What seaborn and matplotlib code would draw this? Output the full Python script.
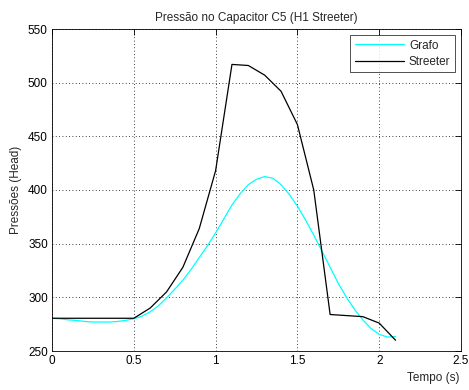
import numpy as np
import pandas as pd
import matplotlib
matplotlib.use("Agg")
import matplotlib.pyplot as plt
import seaborn as sns

# Grafo (cyan, smooth)
grafo_t = [0.00, 0.05, 0.10, 0.15, 0.20, 0.25, 0.30, 0.35, 0.40, 0.45,
           0.50, 0.55, 0.60, 0.65, 0.70, 0.75, 0.80, 0.85, 0.90, 0.95,
           1.00, 1.05, 1.10, 1.15, 1.20, 1.25, 1.30, 1.35, 1.40, 1.45,
           1.50, 1.55, 1.60, 1.65, 1.70, 1.75, 1.80, 1.85, 1.90, 1.95,
           2.00, 2.05, 2.10]
grafo_p = [280.5, 280.0, 279.0, 278.5, 277.5, 277.0, 277.0, 277.0, 277.5, 278.5,
           280.0, 282.5, 286.5, 292.0, 299.5, 307.5, 316.0, 326.0, 337.0, 348.0,
           360.0, 373.0, 386.0, 396.5, 405.0, 410.0, 412.5, 411.0, 405.0, 396.0,
           385.0, 372.0, 358.0, 343.0, 328.0, 313.0, 300.0, 288.5, 279.0, 271.0,
           265.5, 263.0, 263.5]

# Streeter (black polyline)
streeter_t = [0.0, 0.1, 0.2, 0.3, 0.4, 0.5, 0.6, 0.7, 0.8, 0.9, 1.0, 1.1,
              1.2, 1.3, 1.4, 1.5, 1.6, 1.7, 1.8, 1.9, 2.0, 2.1]
streeter_p = [280.5, 280.5, 280.5, 280.5, 280.5, 280.5, 290, 305, 328, 364, 418, 517,
              516, 507, 492, 461, 400, 284, 283, 282, 276, 260]

x_ticks = [0, 0.5, 1, 1.5, 2, 2.5]
x_ticklabels = ["0", "0.5", "1", "1.5", "2", "2.5"]
y_ticks = [250, 300, 350, 400, 450, 500, 550]

sns.set_style("white")
plt.rcParams['font.family'] = ['Liberation Sans', 'DejaVu Sans']
plt.rcParams['font.size'] = 8.5

df = pd.concat([
    pd.DataFrame({"t": grafo_t, "p": grafo_p, "serie": "Grafo"}),
    pd.DataFrame({"t": streeter_t, "p": streeter_p, "serie": "Streeter"}),
])

fig = plt.figure(figsize=(4.69, 3.90), dpi=100)
fig.patch.set_facecolor("white")
ax = fig.add_axes([52/469, 1-351/390, (461-52)/469, (351-29)/390])

sns.lineplot(data=df, x="t", y="p", hue="serie", sort=False,
             palette={"Grafo": "#00ffff", "Streeter": "#000000"},
             linewidth=0.9, ax=ax, estimator=None)

ax.set_xlim(0, 2.5)
ax.set_ylim(250, 550)
ax.set_xticks(x_ticks)
ax.set_xticklabels(x_ticklabels)
ax.set_yticks(y_ticks)
ax.grid(True, color="black", linestyle=(0, (1, 3)), linewidth=0.6)
ax.tick_params(direction="in", length=4, top=True, right=True, width=0.6,
               labelsize=8.5, pad=3, colors="black")
for s in ax.spines.values():
    s.set_visible(True)
    s.set_color("black")
    s.set_linewidth(0.6)

ax.set_title("Pressão no Capacitor C5 (H1 Streeter)", fontsize=8.5, pad=6)
ax.set_ylabel("Pressões (Head)", fontsize=8.5, labelpad=4)
ax.set_xlabel("")
fig.text(459/469, 1-378/390, "Tempo (s)", ha="right", va="center", fontsize=8.5)

leg = ax.legend(loc="upper right", frameon=True, fancybox=False,
                edgecolor="black", fontsize=8.5, handlelength=4.2,
                borderaxespad=0.5, labelspacing=0.35, handletextpad=0.4,
                borderpad=0.4)
leg.get_frame().set_linewidth(0.6)
leg.set_title(None)

fig.savefig("out.png", dpi=100, facecolor="white")
